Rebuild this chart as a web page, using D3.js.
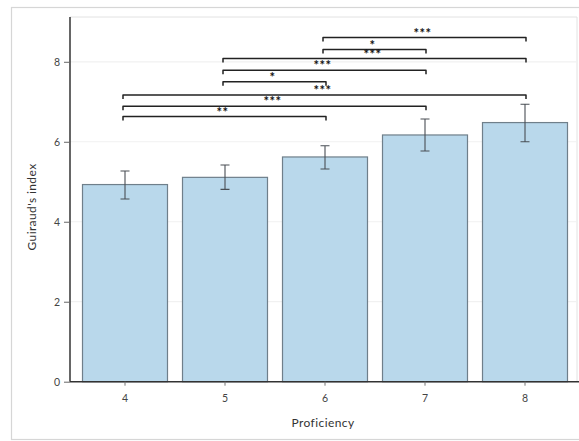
<!DOCTYPE html>
<html>
<head>
<meta charset="utf-8">
<script src="https://cdn.jsdelivr.net/npm/d3@7"></script>
<style>
  html, body { margin: 0; padding: 0; background: #fff; }
  svg { display: block; }
  text { font-family: Lato, "Open Sans", sans-serif; }
</style>
</head>
<body>
<div id="chart"></div>
<script>
// Proficiency levels and mean Guiraud's index with 95% CI
const categories = ["4", "5", "6", "7", "8"];
const means     = [4.93, 5.11, 5.62, 6.17, 6.48];
const ciLow     = [4.57, 4.81, 5.32, 5.77, 6.00];
const ciHigh    = [5.27, 5.42, 5.90, 6.57, 6.94];
const yTicks    = [0, 2, 4, 6, 8];

// Pairwise significance brackets
const bracketFrom   = ["6", "6", "5", "5", "5", "4", "4", "4"];
const bracketTo     = ["8", "7", "8", "7", "6", "8", "7", "6"];
const bracketLevel  = [8.61, 8.31, 8.08, 7.79, 7.50, 7.17, 6.89, 6.63];
const bracketLabels = ["***", "*", "***", "***", "*", "***", "***", "**"];

const W = 579, H = 441;
const plot = { left: 70, right: 577, top: 17, bottom: 381.7 };

const svg = d3.select("#chart").append("svg")
  .attr("width", W).attr("height", H);

// outer frame
svg.append("rect")
  .attr("x", 11.5).attr("y", 7.5).attr("width", W).attr("height", 432)
  .attr("fill", "#fff").attr("stroke", "#d6d6d6").attr("stroke-width", 1.2);

const x = d3.scaleBand().domain(categories)
  .range([75, 575]).paddingInner(0.15).paddingOuter(0.075);
const y = d3.scaleLinear().domain([0, 9.12]).range([plot.bottom, plot.top]);

// panel border (top and right)
svg.append("path")
  .attr("d", `M${plot.left},${plot.top}H${plot.right}V${plot.bottom}`)
  .attr("fill", "none").attr("stroke", "#e2e2e2").attr("stroke-width", 1);

// horizontal gridlines
svg.append("g").selectAll("line").data(yTicks.filter(d => d > 0)).join("line")
  .attr("x1", plot.left).attr("x2", plot.right)
  .attr("y1", d => y(d)).attr("y2", d => y(d))
  .attr("stroke", "#f1f1f1").attr("stroke-width", 1.2);

// bars
svg.append("g").selectAll("rect").data(categories).join("rect")
  .attr("x", d => x(d))
  .attr("width", x.bandwidth())
  .attr("y", (d, i) => y(means[i]))
  .attr("height", (d, i) => y(0) - y(means[i]))
  .attr("fill", "#b9d8eb")
  .attr("stroke", "#6f7f8a").attr("stroke-width", 1.2);

// error bars
const eb = svg.append("g").attr("stroke", "#4a4f55").attr("stroke-width", 1.1).attr("fill", "none");
categories.forEach((c, i) => {
  const cx = x(c) + x.bandwidth() / 2;
  eb.append("path").attr("d",
    `M${cx},${y(ciLow[i])}V${y(ciHigh[i])}` +
    `M${cx - 4.5},${y(ciHigh[i])}H${cx + 4.5}` +
    `M${cx - 4.5},${y(ciLow[i])}H${cx + 4.5}`);
});

// y axis
const yAxis = svg.append("g")
  .attr("transform", `translate(${plot.left},0)`)
  .call(d3.axisLeft(y).tickValues(yTicks).tickSize(6).tickPadding(4).tickSizeOuter(0));
yAxis.select(".domain").attr("stroke", "#333").attr("stroke-width", 1.5)
  .attr("d", `M0,${plot.top}V${plot.bottom}`);
yAxis.selectAll(".tick line").attr("stroke", "#666");
yAxis.selectAll(".tick text").attr("fill", "#444").attr("font-size", 10.5);

// x axis
const xAxis = svg.append("g")
  .attr("transform", `translate(0,${plot.bottom})`)
  .call(d3.axisBottom(x).tickSize(4).tickPadding(9).tickSizeOuter(0));
xAxis.select(".domain").attr("stroke", "#333").attr("stroke-width", 1.5)
  .attr("d", `M${plot.left},0H${W}`);
xAxis.selectAll(".tick line").attr("stroke", "#777");
xAxis.selectAll(".tick text").attr("fill", "#444").attr("font-size", 10.5);

// axis titles
svg.append("text")
  .attr("x", 323).attr("y", 427)
  .attr("text-anchor", "middle").attr("font-size", 12).attr("fill", "#333")
  .attr("letter-spacing", 0.4)
  .text("Proficiency");
svg.append("text")
  .attr("transform", `translate(36,${207}) rotate(-90)`)
  .attr("text-anchor", "middle").attr("font-size", 12).attr("fill", "#333")
  .attr("letter-spacing", 0.4)
  .text("Guiraud's index");

// significance brackets
const br = svg.append("g");
bracketFrom.forEach((f, i) => {
  const x1 = x(f) + x.bandwidth() / 2 - 2;
  const x2 = x(bracketTo[i]) + x.bandwidth() / 2 + 1;
  const yy = y(bracketLevel[i]);
  br.append("path")
    .attr("d", `M${x1},${yy + 4}V${yy}H${x2}V${yy + 4}`)
    .attr("fill", "none").attr("stroke", "#222").attr("stroke-width", 1.5)
    .attr("stroke-linejoin", "round");
  br.append("text")
    .attr("x", (x1 + x2) / 2 - 2).attr("y", yy + 0.3)
    .attr("text-anchor", "middle").attr("font-size", 13).attr("font-weight", "bold")
    .attr("fill", "#111").attr("font-family", "DejaVu Sans")
    .attr("letter-spacing", 0.5)
    .text(bracketLabels[i]);
});
</script>
</body>
</html>
